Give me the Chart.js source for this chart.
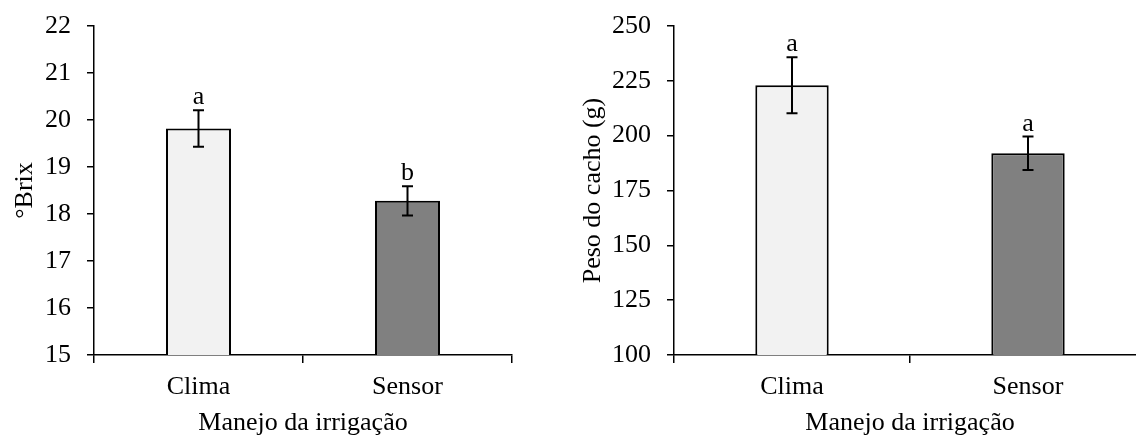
<!DOCTYPE html>
<html>
<head>
<meta charset="utf-8">
<script src="https://cdn.jsdelivr.net/npm/chart.js@4"></script>
<style>
  body { margin: 0; background: #fff; }
  #wrap { position: relative; width: 1136px; height: 439px; overflow: hidden; }
  canvas { position: absolute; top: 0; }
</style>
</head>
<body>
<div id="wrap">
  <canvas id="brix" width="560" height="439" style="left:0"></canvas>
  <canvas id="peso" width="600" height="439" style="left:560px"></canvas>
</div>
<script>
// data
const categories = ["Clima", "Sensor"];
const barColors = ["#f2f2f2", "#808080"];

const brixMeans = [19.82, 18.28];
const brixErrors = [0.39, 0.31];
const brixLetters = ["a", "b"];
const brixTicks = [15, 16, 17, 18, 19, 20, 21, 22];

const pesoMeans = [223, 192];
const pesoErrors = [12.8, 7.6];
const pesoLetters = ["a", "a"];
const pesoTicks = [100, 125, 150, 175, 200, 225, 250];

const xTitle = "Manejo da irrigação";

Chart.defaults.font.family = "'Liberation Serif', 'Times New Roman', serif";
Chart.defaults.font.size = 26;
Chart.defaults.color = "#000";

// error bars + significance letters
const errorBars = {
  id: "errorBars",
  afterDatasetsDraw(chart, args, opts) {
    const { ctx } = chart;
    const y = chart.scales.y;
    const meta = chart.getDatasetMeta(0);
    ctx.save();
    ctx.strokeStyle = "#000";
    ctx.lineWidth = 2;
    opts.means.forEach((m, i) => {
      const x = meta.data[i].x;
      const top = y.getPixelForValue(m + opts.errors[i]);
      const bot = y.getPixelForValue(m - opts.errors[i]);
      ctx.beginPath();
      ctx.moveTo(x, top); ctx.lineTo(x, bot);
      ctx.moveTo(x - 5.5, top); ctx.lineTo(x + 5.5, top);
      ctx.moveTo(x - 5.5, bot); ctx.lineTo(x + 5.5, bot);
      ctx.stroke();
      ctx.fillStyle = "#000";
      ctx.font = "26px 'Liberation Serif', serif";
      ctx.textAlign = "center";
      ctx.textBaseline = "alphabetic";
      ctx.fillText(opts.letters[i], x, top - 6);
    });
    ctx.restore();
  }
};

function makeChart(id, means, errors, letters, ticks, yTitle, yWidth, titlePad, padRight) {
  return new Chart(document.getElementById(id), {
    type: "bar",
    data: {
      labels: categories,
      datasets: [{
        data: means,
        backgroundColor: barColors,
        borderColor: "#000",
        borderWidth: 2,
        categoryPercentage: 1,
        barPercentage: 0.311,
      }],
    },
    options: {
      responsive: false,
      animation: false,
      layout: { padding: { top: 26, right: padRight, bottom: 0, left: 0 } },
      plugins: {
        legend: { display: false },
        tooltip: { enabled: false },
        errorBars: { means: means, errors: errors, letters: letters },
      },
      scales: {
        x: {
          offset: true,
          grid: { offset: true, drawOnChartArea: false, drawTicks: true, tickLength: 8, color: "#000", lineWidth: 1.5 },
          border: { display: true, color: "#000", width: 1.5 },
          ticks: { padding: 9, color: "#000" },
          title: { display: true, text: xTitle, color: "#000", padding: { top: 0, bottom: 0 } },
          afterFit(scale) { scale.height = 84; scale.paddingLeft = 0; scale.paddingRight = 0; },
        },
        y: {
          min: ticks[0],
          max: ticks[ticks.length - 1],
          afterBuildTicks(scale) { scale.ticks = ticks.map(v => ({ value: v })); },
          grid: { drawOnChartArea: false, drawTicks: true, tickLength: 7, color: "#000", lineWidth: 1.5 },
          border: { display: true, color: "#000", width: 1.5 },
          ticks: { padding: 16, color: "#000" },
          title: { display: true, text: yTitle, color: "#000", padding: { top: titlePad, bottom: 0 } },
          afterFit(scale) { scale.width = yWidth; scale.paddingTop = 0; scale.paddingBottom = 0; },
        },
      },
    },
    plugins: [errorBars],
  });
}

makeChart("brix", brixMeans, brixErrors, brixLetters, brixTicks, "°Brix", 94, 10, 48);
makeChart("peso", pesoMeans, pesoErrors, pesoLetters, pesoTicks, "Peso do cacho (g)", 114, 18, 14);
</script>
</body>
</html>
